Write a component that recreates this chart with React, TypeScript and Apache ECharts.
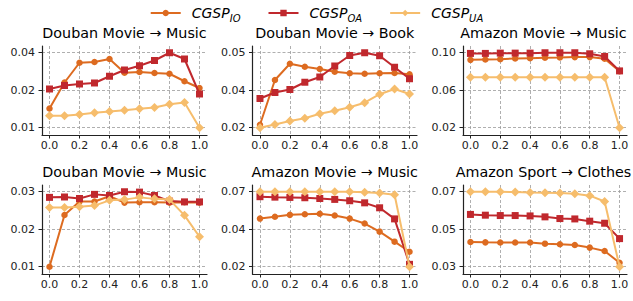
import React, { useEffect, useRef } from "react";
import * as echarts from "echarts";

// x values (ratio) and tick labels
const xValues = [0.0, 0.1, 0.2, 0.3, 0.4, 0.5, 0.6, 0.7, 0.8, 0.9, 1.0];
const xTicks = [0.0, 0.2, 0.4, 0.6, 0.8, 1.0];

const seriesNames = ["CGSP_IO", "CGSP_OA", "CGSP_UA"];
const seriesSubs = ["IO", "OA", "UA"];

const panelTitles = [
  "Douban Movie → Music",
  "Douban Movie → Book",
  "Amazon Movie → Music",
  "Douban Movie → Music",
  "Amazon Movie → Music",
  "Amazon Sport → Clothes",
];

// Panel 1: Douban Movie → Music
const ioP1 = [0.0177, 0.0281, 0.036, 0.0363, 0.0375, 0.032, 0.0323, 0.0319, 0.0316, 0.0286, 0.0259];
const oaP1 = [0.0255, 0.0269, 0.0275, 0.0279, 0.0306, 0.0331, 0.0348, 0.0369, 0.04, 0.0375, 0.0235];
const uaP1 = [0.0148, 0.0148, 0.0153, 0.016, 0.0165, 0.017, 0.0176, 0.0181, 0.0194, 0.0201, 0.01];
const yLabelsP1 = ["0.01", "0.02", "0.04"];

// Panel 2: Douban Movie → Book
const ioP2 = [0.0212, 0.0391, 0.0456, 0.0444, 0.0435, 0.0424, 0.0418, 0.0416, 0.0418, 0.0419, 0.0414];
const oaP2 = [0.0317, 0.0341, 0.0353, 0.0382, 0.0403, 0.0447, 0.0489, 0.05, 0.0488, 0.0442, 0.0396];
const uaP2 = [0.02, 0.0213, 0.0227, 0.0238, 0.0256, 0.0268, 0.0282, 0.03, 0.0334, 0.0355, 0.0335];
const yLabelsP2 = ["0.02", "0.04", "0.05"];

// Panel 3: Amazon Movie → Music
const ioP3 = [0.0918, 0.0922, 0.0925, 0.0932, 0.0936, 0.094, 0.0943, 0.0947, 0.0947, 0.0929, 0.0797];
const oaP3 = [0.0986, 0.0986, 0.0989, 0.0989, 0.0989, 0.0993, 0.0993, 0.0993, 0.0982, 0.0954, 0.0801];
const uaP3 = [0.0733, 0.0733, 0.0733, 0.0733, 0.0733, 0.0733, 0.0733, 0.0733, 0.0733, 0.0733, 0.02];
const yLabelsP3 = ["0.02", "0.06", "0.10"];

// Panel 4: Douban Movie → Music
const ioP4 = [0.01, 0.0238, 0.0274, 0.0274, 0.0288, 0.0271, 0.0272, 0.0272, 0.0271, 0.0272, 0.0271];
const oaP4 = [0.0285, 0.0286, 0.0282, 0.0293, 0.029, 0.03, 0.0299, 0.029, 0.0275, 0.0273, 0.0273];
const uaP4 = [0.0258, 0.0258, 0.026, 0.0263, 0.0277, 0.0279, 0.0285, 0.0281, 0.0279, 0.0237, 0.018];
const yLabelsP4 = ["0.01", "0.02", "0.03"];

// Panel 5: Amazon Movie → Music
const ioP5 = [0.0521, 0.0533, 0.0546, 0.055, 0.0553, 0.0542, 0.0521, 0.0488, 0.0434, 0.0367, 0.03];
const oaP5 = [0.0667, 0.0664, 0.0662, 0.066, 0.0655, 0.0649, 0.064, 0.0626, 0.0593, 0.0519, 0.0216];
const uaP5 = [0.07, 0.07, 0.07, 0.07, 0.07, 0.07, 0.07, 0.0696, 0.0691, 0.068, 0.02];
const yLabelsP5 = ["0.02", "0.04", "0.07"];

// Panel 6: Amazon Sport → Clothes
const ioP6 = [0.0432, 0.043, 0.0429, 0.0429, 0.0429, 0.0423, 0.042, 0.0416, 0.0402, 0.0384, 0.0321];
const oaP6 = [0.0579, 0.0575, 0.0573, 0.0573, 0.0571, 0.0566, 0.0557, 0.0555, 0.0543, 0.0532, 0.045];
const uaP6 = [0.07, 0.07, 0.07, 0.0698, 0.0696, 0.0695, 0.0693, 0.0689, 0.0679, 0.0648, 0.03];
const yLabelsP6 = ["0.03", "0.05", "0.07"];

const panels = [
  { io: ioP1, oa: oaP1, ua: uaP1, labels: yLabelsP1 },
  { io: ioP2, oa: oaP2, ua: uaP2, labels: yLabelsP2 },
  { io: ioP3, oa: oaP3, ua: uaP3, labels: yLabelsP3 },
  { io: ioP4, oa: oaP4, ua: uaP4, labels: yLabelsP4 },
  { io: ioP5, oa: oaP5, ua: uaP5, labels: yLabelsP5 },
  { io: ioP6, oa: oaP6, ua: uaP6, labels: yLabelsP6 },
];

const colors = ["#dd6b20", "#c0282d", "#f6bd6c"];
const symbols = ["circle", "rect", "diamond"];
const symbolSizes = [6.5, 7, 9];

const FONT = "DejaVu Sans";

const gridLefts = [42, 252.5, 463];
const gridWidths = [165, 164.5, 164];
const gridTops = [46, 185];
const gridHeight = 89;

function buildOption() {
  const grid: any[] = [];
  const xAxis: any[] = [];
  const yAxis: any[] = [];
  const series: any[] = [];
  const title: any[] = [];

  panels.forEach((p, i) => {
    const col = i % 3;
    const row = Math.floor(i / 3);
    grid.push({
      left: gridLefts[col],
      top: gridTops[row],
      width: gridWidths[col],
      height: gridHeight,
      containLabel: false,
    });
    title.push({
      text: panelTitles[i],
      left: gridLefts[col] + gridWidths[col] / 2 - (col === 2 ? 1.5 : 0),
      textAlign: "center",
      top: gridTops[row] - 20,
      padding: 0,
      textStyle: { fontFamily: FONT, fontSize: 14.3, fontWeight: "normal", color: "#000" },
    });
    const all = [...p.io, ...p.oa, ...p.ua];
    const dMin = Math.min(...all);
    const dMax = Math.max(...all);
    const span = dMax - dMin;
    const yTicks = [dMin, (dMin + dMax) / 2, dMax];
    const labels = p.labels;
    xAxis.push({
      type: "value",
      gridIndex: i,
      min: -0.05,
      max: 1.05,
      axisLine: { show: true, onZero: false, lineStyle: { color: "#222", width: 1.2 } },
      axisTick: { show: true, length: 3.5, customValues: xTicks, lineStyle: { color: "#222", width: 1 } },
      axisLabel: {
        customValues: xTicks,
        margin: 5,
        fontFamily: FONT,
        fontSize: 11,
        color: "#222",
        formatter: (v: number) => v.toFixed(1),
      },
      splitLine: { show: true, lineStyle: { color: "#9a9a9a", type: [3, 2], width: 0.8 } },
    });
    yAxis.push({
      type: "value",
      gridIndex: i,
      min: dMin - 0.097 * span,
      max: dMax + 0.09 * span,
      axisLine: { show: true, onZero: false, lineStyle: { color: "#222", width: 1.2 } },
      axisTick: { show: true, length: 3.5, customValues: yTicks, lineStyle: { color: "#222", width: 1 } },
      axisLabel: {
        customValues: yTicks,
        margin: 7,
        fontFamily: FONT,
        fontSize: 11,
        color: "#222",
        formatter: (v: number) => {
          let best = 0;
          let bd = Infinity;
          yTicks.forEach((t, k) => {
            const d = Math.abs(t - v);
            if (d < bd) {
              bd = d;
              best = k;
            }
          });
          return labels[best];
        },
      },
      splitLine: { show: true, lineStyle: { color: "#9a9a9a", type: [3, 2], width: 0.8 } },
    });
    [p.io, p.oa, p.ua].forEach((vals, s) => {
      series.push({
        type: "line",
        name: seriesNames[s],
        xAxisIndex: i,
        yAxisIndex: i,
        data: xValues.map((x, k) => [x, vals[k]]),
        symbol: symbols[s],
        symbolSize: symbolSizes[s],
        showSymbol: true,
        lineStyle: { color: colors[s], width: 2 },
        itemStyle: { color: colors[s] },
        z: 2 + s,
      });
    });
  });

  return {
    animation: false,
    backgroundColor: "#fff",
    color: colors,
    title,
    grid,
    xAxis,
    yAxis,
    series,
    legend: {
      data: seriesNames,
      top: 1,
      left: "center",
      itemWidth: 30,
      itemHeight: 8,
      itemGap: 27,
      formatter: (name: string) => `{a|CGSP}{b|${seriesSubs[seriesNames.indexOf(name)]}}`,
      textStyle: {
        rich: {
          a: {
            fontFamily: FONT,
            fontStyle: "italic",
            fontSize: 14,
            color: "#000",
            lineHeight: 20,
            padding: [0, 0, 0, 6],
          },
          b: {
            fontFamily: FONT,
            fontStyle: "italic",
            fontSize: 10,
            color: "#000",
            lineHeight: 12,
            verticalAlign: "bottom",
          },
        },
      },
    },
  };
}

export default function App() {
  const ref = useRef<HTMLDivElement>(null);
  useEffect(() => {
    if (!ref.current) return;
    const chart = echarts.init(ref.current, null, { renderer: "svg" });
    chart.setOption(buildOption() as any);
    return () => chart.dispose();
  }, []);
  return <div ref={ref} style={{ width: 633, height: 301, position: "absolute", left: 0, top: 0 }} />;
}
